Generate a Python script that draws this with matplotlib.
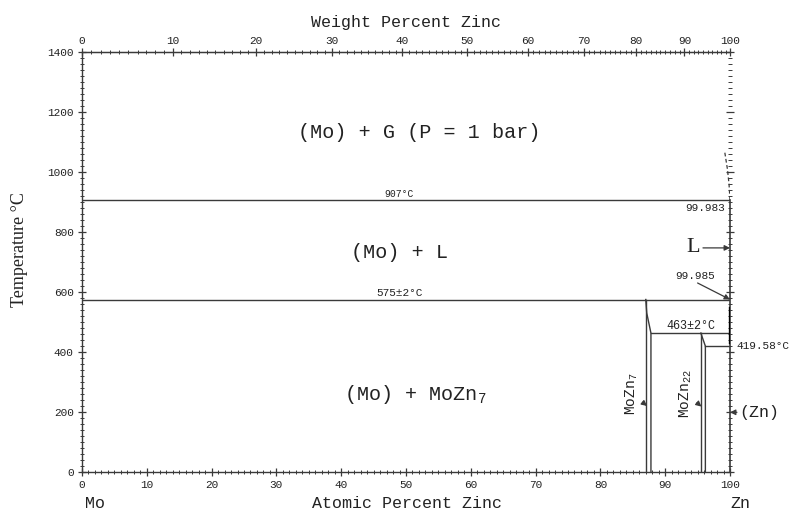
import numpy as np
import matplotlib
matplotlib.use("Agg")
import matplotlib.pyplot as plt
from matplotlib.ticker import MultipleLocator, FixedLocator

plt.rcParams['font.family'] = ['Liberation Mono', 'DejaVu Sans Mono']
plt.rcParams['mathtext.fontset'] = 'custom'
plt.rcParams['mathtext.rm'] = 'Liberation Mono'
plt.rcParams['mathtext.it'] = 'Liberation Mono'

INK = '#3a3a3a'
M_MO = 95.95
M_ZN = 65.38

# invariant temperatures (deg C)
T_BOIL = 907
T_MONO = 575
T_PERI = 463
T_EUT = 419.58

# phase boundaries (at.% Zn, T)
mozn7_left_x = [87.0, 87.0]
mozn7_left_t = [0, 575]
mozn7_right_x = [87.8, 87.8, 87.15, 87.0]
mozn7_right_t = [0, 463, 530, 575]
mozn22_left_x = [95.5, 95.5]
mozn22_left_t = [0, 463]
mozn22_right_x = [96.2, 96.2, 95.5]
mozn22_right_t = [0, 419.58, 463]
zn_x = [100, 100]
zn_t = [0, 907]
liq_x = [99.985, 99.985]
liq_t = [433, 548]
gas_x = [100, 99.85, 99.6, 99.2]
gas_t = [907, 960, 1010, 1065]

wt_ticks = list(range(0, 101, 10))


def wt_to_at(w):
    w = np.asarray(w, dtype=float)
    with np.errstate(divide='ignore', invalid='ignore'):
        a = w / M_ZN
        b = (100 - w) / M_MO
        return 100 * a / (a + b)


def at_to_wt(x):
    x = np.asarray(x, dtype=float)
    with np.errstate(divide='ignore', invalid='ignore'):
        return 100 * x * M_ZN / (x * M_ZN + (100 - x) * M_MO)


fig = plt.figure(figsize=(7.9, 5.14), dpi=100)
ax = fig.add_axes([82 / 790, 42 / 514, 648 / 790, 420 / 514])
ax.set_xlim(0, 100)
ax.set_ylim(0, 1400)

for s in ['left', 'bottom', 'top']:
    ax.spines[s].set_color(INK)
    ax.spines[s].set_linewidth(1.0)
ax.spines['right'].set_visible(False)

ax.xaxis.set_major_locator(MultipleLocator(10))
ax.xaxis.set_minor_locator(MultipleLocator(1))
ax.yaxis.set_major_locator(MultipleLocator(200))
ax.yaxis.set_minor_locator(MultipleLocator(20))
ax.tick_params(which='major', direction='inout', length=6, width=0.9,
               color=INK, labelsize=8, labelcolor='#222222', pad=3,
               right=True, top=False)
ax.tick_params(which='minor', direction='inout', length=3, width=0.7,
               color=INK, right=True, top=False)

sec = ax.secondary_xaxis('top', functions=(at_to_wt, wt_to_at))
sec.xaxis.set_major_locator(FixedLocator(wt_ticks))
sec.xaxis.set_minor_locator(FixedLocator(list(range(0, 101))))
sec.tick_params(which='major', direction='inout', length=6, width=0.9,
                color=INK, labelsize=8, labelcolor='#222222', pad=1.5)
sec.tick_params(which='minor', direction='inout', length=3, width=0.7,
                color=INK)
sec.spines['top'].set_color(INK)
ax.text(0.5, 1.071, 'Weight Percent Zinc', transform=ax.transAxes,
        fontsize=12, color='#222222', ha='center', va='center')

ax.set_xlabel('Atomic Percent Zinc', fontsize=12, color='#222222')
ax.xaxis.set_label_coords(0.502, -0.074)
ax.xaxis.label.set_va('center')
ax.set_ylabel('Temperature °C', fontsize=13, color='#222222',
              family='Liberation Serif')
ax.yaxis.set_label_coords(-0.097, 0.529)
ax.yaxis.label.set_va('center')

lk = dict(color=INK, lw=1.0)
ax.plot([0, 100], [T_BOIL, T_BOIL], **lk)
ax.plot([0, 100], [T_MONO, T_MONO], **lk)
ax.plot([87.8, 100], [T_PERI, T_PERI], **lk)
ax.plot([96.2, 100], [T_EUT, T_EUT], **lk)
ax.plot(mozn7_left_x, mozn7_left_t, **lk)
ax.plot(mozn7_right_x, mozn7_right_t, **lk)
ax.plot(mozn22_left_x, mozn22_left_t, **lk)
ax.plot(mozn22_right_x, mozn22_right_t, **lk)
ax.plot(zn_x, zn_t, color=INK, lw=1.2, clip_on=False)
ax.plot(liq_x, liq_t, color='black', lw=2.4)
ax.plot(gas_x, gas_t, color=INK, lw=0.9, ls=(0, (3, 2)))

# region labels
big = dict(fontsize=14.5, color='#222222', ha='center', va='center')
ax.text(52, 1130, '(Mo) + G (P = 1 bar)', **big)
ax.text(49, 730, '(Mo) + L', **big)
ax.text(51.4, 257, '(Mo) + MoZn$_7$', **big)

small = dict(color='#222222', ha='center', va='bottom')
ax.text(49, T_BOIL + 4, '907°C', fontsize=7, **small)
ax.text(49, T_MONO + 4, '575±2°C', fontsize=8, **small)
ax.text(93.9, T_PERI + 5, '463±2°C', fontsize=8.5, **small)
ax.text(99.3, 880, '99.983', fontsize=8, color='#222222',
        ha='right', va='center')
ax.text(94.6, 653, '99.985', fontsize=8, color='#222222',
        ha='center', va='center')
ax.text(101.0, T_EUT, '419.58°C', fontsize=8, color='#222222',
        ha='left', va='center', clip_on=False)

arr = dict(arrowstyle='-|>', color=INK, lw=0.9, mutation_scale=8,
           shrinkA=0, shrinkB=0)
ax.annotate('', xy=(100, 575), xytext=(95.0, 630), arrowprops=arr)
ax.annotate('L', xy=(100, 747), xytext=(95.4, 747), arrowprops=arr,
            fontsize=16, family='Liberation Serif', ha='right',
            va='center', color='#222222')
ax.annotate('(Zn)', xy=(100, 199), xytext=(101.5, 199), arrowprops=arr,
            fontsize=12, ha='left', va='center', color='#222222',
            annotation_clip=False)
ax.annotate('MoZn$_7$', xy=(87.2, 220), xytext=(84.8, 262),
            arrowprops=arr, fontsize=10.5, rotation=90,
            ha='center', va='center', color='#222222')
ax.annotate('MoZn$_{22}$', xy=(95.6, 218), xytext=(93.2, 262),
            arrowprops=arr, fontsize=10.5, rotation=90,
            ha='center', va='center', color='#222222')

tr = ax.get_xaxis_transform()
ax.text(0.5, -0.074, 'Mo', transform=tr, fontsize=12, color='#222222',
        ha='left', va='center')
ax.text(100, -0.074, 'Zn', transform=tr, fontsize=12, color='#222222',
        ha='left', va='center', clip_on=False)

fig.savefig('out.png', dpi=100)
